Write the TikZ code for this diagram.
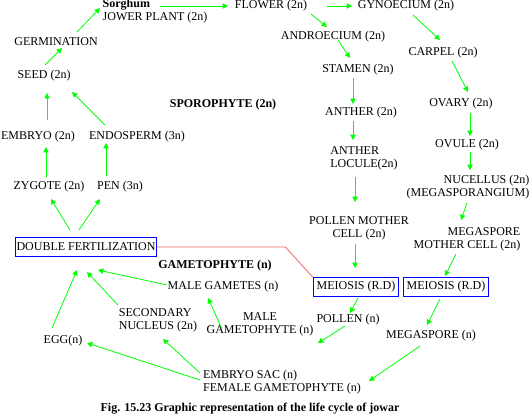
\documentclass[tikz,border=0pt]{standalone}
\usepackage{fontspec}
\setmainfont{Liberation Serif}
\usetikzlibrary{arrows.meta, calc, positioning}
\definecolor{arrowgreen}{RGB}{0,255,0}
\definecolor{linkred}{RGB}{240,100,100}
\definecolor{boxblue}{RGB}{0,0,255}

\begin{document}
\begin{tikzpicture}[
    x=0.75pt, y=-0.75pt,
    every node/.style={font=\fontsize{9}{9.75}\selectfont, inner sep=0pt},
    phase/.style={font=\fontsize{9}{9.75}\selectfont\bfseries},
    event/.style={draw=boxblue, line width=0.75pt, inner xsep=2.5pt, minimum height=14pt},
    arrow/.style={-{Triangle[length=4pt, width=4pt]}, draw=arrowgreen, line width=0.6pt}
]
\useasboundingbox (0,0) rectangle (532,417);

% sporophyte
\node[align=left] (plant) at (155,11) {\textbf{Sorghum}\\JOWER PLANT (2n)};
\node (flower) at (271,6) {FLOWER (2n)};
\node (gyno) at (406,6) {GYNOECIUM (2n)};
\node (andro) at (333,37) {ANDROECIUM (2n)};
\node (carpel) at (443,53) {CARPEL (2n)};
\node (stamen) at (358,70) {STAMEN (2n)};
\node (ovary) at (461,104) {OVARY (2n)};
\node (anther) at (361,113) {ANTHER (2n)};
\node (ovule) at (467,145) {OVULE (2n)};
\node[align=left] (locule) at (364,158) {ANTHER\\LOCULE(2n)};
\node[align=right] (nucellus) at (468,187) {NUCELLUS (2n)\\(MEGASPORANGIUM)};
\node[align=center] (pmc) at (359,228) {POLLEN MOTHER\\CELL (2n)};
\node[align=right] (mmc) at (467,239) {MEGASPORE\\MOTHER CELL (2n)};
\node[event] (meiosisA) at (356,287) {MEIOSIS (R.D)};
\node[event] (meiosisB) at (446,287) {MEIOSIS (R.D)};

% gametophyte
\node (pollen) at (348,320) {POLLEN (n)};
\node (megaspore) at (431,336) {MEGASPORE (n)};
\node[align=center] (malegp) at (260,324) {MALE\\GAMETOPHYTE (n)};
\node[align=left] (femalegp) at (282,382) {EMBRYO SAC (n)\\FEMALE GAMETOPHYTE (n)};
\node (malegam) at (223,287) {MALE GAMETES (n)};
\node[align=left] (secnuc) at (158,320) {SECONDARY\\NUCLEUS (2n)};
\node (egg) at (63,341) {EGG(n)};
\node[event, inner xsep=1pt] (df) at (86,247) {DOUBLE FERTILIZATION};

% back to sporophyte
\node (zygote) at (49,187) {ZYGOTE (2n)};
\node (pen) at (120,187) {PEN (3n)};
\node (embryo) at (38,137) {EMBRYO (2n)};
\node (endo) at (137,137) {ENDOSPERM (3n)};
\node (seed) at (44,76) {SEED (2n)};
\node (germ) at (56,42) {GERMINATION};

\node[phase] (sporo) at (223,105) {SPOROPHYTE (2n)};
\node[phase] (gameto) at (215,266) {GAMETOPHYTE (n)};
\node[phase] (caption) at (250,409) {Fig. 15.23 Graphic representation of the life cycle of jowar};

\draw[arrow] ($(plant)+(5,-5)$) -- ($(flower)+(-43,0)$);
\draw[arrow] ($(flower)+(56,0)$) -- ($(gyno)+(-54,0)$);
\draw[arrow] ($(flower)+(40,8)$) -- ($(andro)+(-6,-10)$);
\draw[arrow] ($(andro)+(5,3)$) -- ($(stamen)+(-8,-12)$);
\draw[arrow] ($(gyno)+(7,9)$) -- ($(carpel)+(-3,-13)$);
\draw[arrow] ($(carpel)+(9,8)$) -- ($(ovary)+(7,-12)$);
\draw[arrow] ($(stamen)+(-5,8)$) -- ($(anther)+(-8,-9)$);
\draw[arrow] ($(ovary)+(9,9)$) -- ($(ovule)+(3,-9)$);
\draw[arrow] ($(anther)+(-8,8)$) -- ($(locule)+(-11,-18)$);
\draw[arrow] ($(ovule)+(3,7)$) -- ($(nucellus)+(2,-17)$);
\draw[arrow] ($(locule)+(-9,19)$) -- ($(pmc)+(-4,-26)$);
\draw[arrow] ($(nucellus)+(-1,16)$) -- ($(mmc)+(-6,-19)$);
\draw[arrow] ($(pmc)+(-4,16)$) -- ($(meiosisA)+(-1,-19)$);
\draw[arrow] ($(mmc)+(-11,15)$) -- ($(meiosisB)+(-1,-11)$);
\draw[arrow] ($(meiosisA)+(2,11)$) -- ($(pollen)+(2,-7)$);
\draw[arrow] ($(meiosisB)+(-6,12)$) -- ($(megaspore)+(-4,-11)$);
\draw[arrow] ($(pollen)+(-3,6)$) -- ($(malegp)+(58,19)$);
\draw[arrow] ($(megaspore)+(-11,10)$) -- ($(femalegp)+(87,-1)$);
\draw[arrow] ($(malegp)+(-38,5)$) -- ($(malegam)+(-15,11)$);
\draw[arrow] ($(malegam)+(-56,-2)$) -- ($(df)+(12,23)$);
\draw[arrow] ($(secnuc)+(-40,-15)$) -- ($(df)+(1,25)$);
\draw[arrow] ($(egg)+(-11,-13)$) -- ($(df)+(-9,23)$);
\draw[arrow] ($(femalegp)+(-82,-9)$) -- ($(secnuc)+(5,19)$);
\draw[arrow] ($(femalegp)+(-82,-2)$) -- ($(egg)+(24,2)$);
\draw[arrow] ($(df)+(-16,-17)$) -- ($(zygote)+(2,12)$);
\draw[arrow] ($(df)+(-7,-17)$) -- ($(pen)+(-20,12)$);
\draw[arrow] ($(zygote)+(-3,-10)$) -- ($(embryo)+(8,10)$);
\draw[arrow] ($(pen)+(-14,-11)$) -- ($(endo)+(-31,6)$);
\draw[arrow] ($(embryo)+(9,-17)$) -- ($(seed)+(3,17)$);
\draw[arrow] ($(endo)+(-32,-12)$) -- ($(seed)+(28,16)$);
\draw[arrow] ($(seed)+(1,-11)$) -- ($(germ)+(6,6)$);
\draw[arrow] ($(germ)+(21,-10)$) -- ($(plant)+(-55,-3)$);

\draw[linkred, line width=0.6pt] (df.east) -- ++(128,0) -- (meiosisA.north west);
\end{tikzpicture}
\end{document}
